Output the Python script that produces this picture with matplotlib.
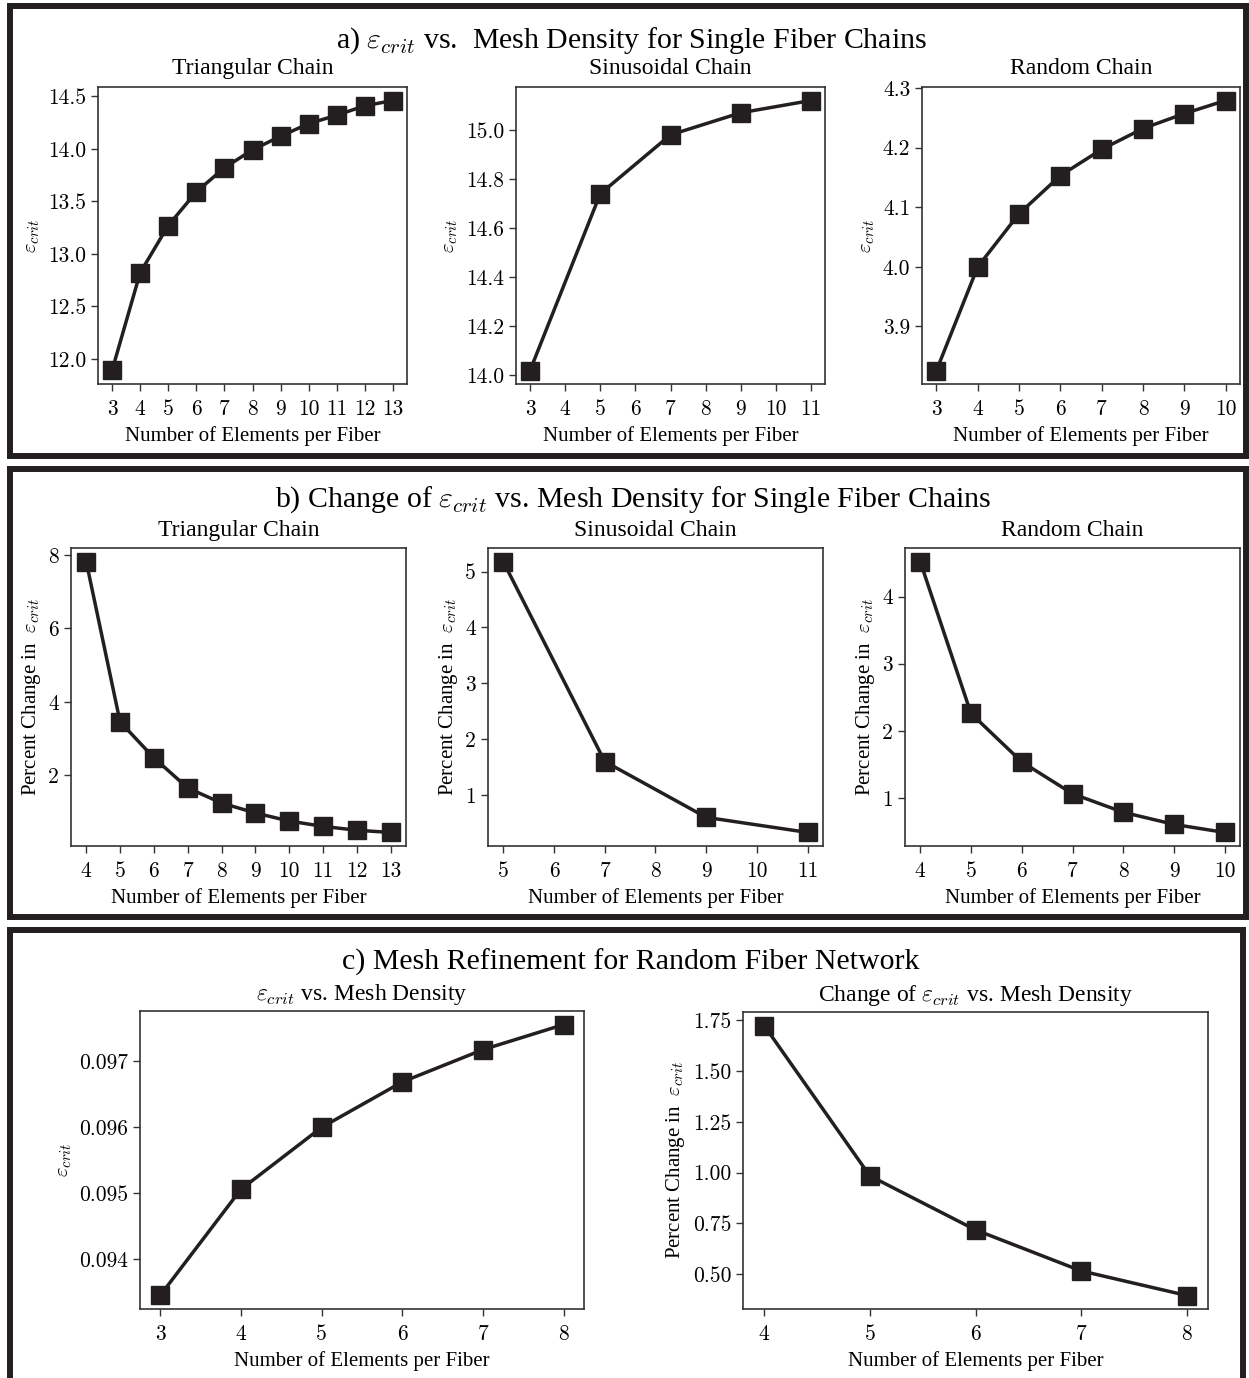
import matplotlib
matplotlib.use("Agg")
import matplotlib.pyplot as plt
import matplotlib.ticker as ticker
from matplotlib.patches import Rectangle

plt.rcParams["font.family"] = ["Liberation Serif", "DejaVu Serif"]
plt.rcParams["mathtext.fontset"] = "cm"

W, H = 1249, 1378
INK = "#231f20"

# ---- data ----
tri_n = [3, 4, 5, 6, 7, 8, 9, 10, 11, 12, 13]
tri_eps = [11.89, 12.82, 13.27, 13.59, 13.82, 13.99, 14.12, 14.24, 14.32, 14.41, 14.46]
sin_n = [3, 5, 7, 9, 11]
sin_eps = [14.02, 14.74, 14.98, 15.07, 15.12]
rnd_n = [3, 4, 5, 6, 7, 8, 9, 10]
rnd_eps = [3.826, 4.0, 4.089, 4.153, 4.197, 4.232, 4.257, 4.279]

tri_dn = [4, 5, 6, 7, 8, 9, 10, 11, 12, 13]
tri_pct = [7.82, 3.46, 2.48, 1.66, 1.25, 0.98, 0.76, 0.615, 0.51, 0.45]
sin_dn = [5, 7, 9, 11]
sin_pct = [5.18, 1.60, 0.60, 0.33]
rnd_dn = [4, 5, 6, 7, 8, 9, 10]
rnd_pct = [4.52, 2.26, 1.54, 1.066, 0.79, 0.61, 0.49]

net_n = [3, 4, 5, 6, 7, 8]
net_eps = [0.09345, 0.09506, 0.09600, 0.09669, 0.09718, 0.09756]
net_dn = [4, 5, 6, 7, 8]
net_pct = [1.724, 0.984, 0.718, 0.516, 0.395]

EPS = r"$\varepsilon_{crit}$"
XLAB = "Number of Elements per Fiber"
PCT = "Percent Change in  " + EPS


def px_axes(fig, l, t, r, b):
    return fig.add_axes([l / W, 1 - b / H, (r - l) / W, (b - t) / H])


def draw(ax, x, y, title, ylabel, ystep, pad, ysize):
    ax.plot(x, y, "-s", color=INK, lw=2.5, ms=12.5, mec=INK)
    ax.set_title(title, fontsize=17, pad=pad)
    ax.set_xlabel(XLAB, fontsize=15, labelpad=5)
    ax.set_ylabel(ylabel, fontsize=ysize)
    ax.xaxis.set_major_locator(ticker.MultipleLocator(1))
    ax.yaxis.set_major_locator(ticker.MultipleLocator(ystep))
    ax.tick_params(direction="out", length=5, width=1, labelsize=15.5,
                   labelfontfamily="cmr10", color="#333333")
    ax.tick_params(axis="x", pad=6)
    for s in ax.spines.values():
        s.set_linewidth(1.2)
        s.set_color("#333333")


fig = plt.figure(figsize=(W / 100, H / 100), dpi=100)


def box(l, t, r, b):
    fig.patches.append(Rectangle((l / W, 1 - b / H), (r - l) / W, (b - t) / H,
                                 transform=fig.transFigure, fill=False,
                                 lw=4.3, ec=INK, zorder=10))


box(10, 6, 1246, 456)
box(10, 469, 1246, 917)
box(10, 930, 1243, 1420)

# row a
ax = px_axes(fig, 98, 87, 407, 384)
draw(ax, tri_n, tri_eps, "Triangular Chain", EPS, 0.5, 9.4, 15)
ax = px_axes(fig, 516, 87, 825, 384)
draw(ax, sin_n, sin_eps, "Sinusoidal Chain", EPS, 0.2, 9.4, 15)
ax = px_axes(fig, 922, 87, 1240, 384)
draw(ax, rnd_n, rnd_eps, "Random Chain", EPS, 0.1, 9.4, 15)

# row b
ax = px_axes(fig, 71, 548, 406, 846)
draw(ax, tri_dn, tri_pct, "Triangular Chain", PCT, 2, 8.6, 15)
ax = px_axes(fig, 488, 548, 823, 846)
draw(ax, sin_dn, sin_pct, "Sinusoidal Chain", PCT, 1, 8.6, 15)
ax = px_axes(fig, 905, 548, 1240, 846)
draw(ax, rnd_dn, rnd_pct, "Random Chain", PCT, 1, 8.6, 15)

# row c
ax = px_axes(fig, 140, 1011, 584, 1309)
draw(ax, net_n, net_eps, EPS + " vs. Mesh Density", EPS, 0.001, 8, 15)
ax = px_axes(fig, 743, 1012, 1208, 1309)
draw(ax, net_dn, net_pct, "Change of " + EPS + " vs. Mesh Density", PCT, 0.25, 8, 15)

fig.text(632 / W, 1 - 48 / H, "a) " + EPS + " vs.  Mesh Density for Single Fiber Chains",
         ha="center", va="baseline", fontsize=21.5)
fig.text(633 / W, 1 - 507 / H, "b) Change of " + EPS + " vs. Mesh Density for Single Fiber Chains",
         ha="center", va="baseline", fontsize=21.5)
fig.text(631 / W, 1 - 970 / H, "c) Mesh Refinement for Random Fiber Network",
         ha="center", va="baseline", fontsize=21.5)

fig.savefig("out.png", dpi=100)
